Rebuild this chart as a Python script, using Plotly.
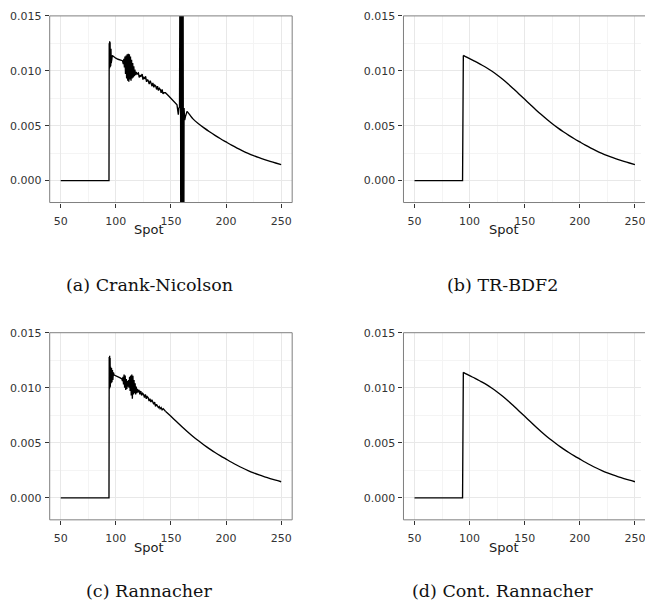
import plotly.graph_objects as go

W, H = 645, 603

# ---------------- data ----------------
# Smooth solution (TR-BDF2 and continuous Rannacher panels)
SMOOTH_X = [50, 93.6, 94.3, 100, 105, 110, 115, 120, 125, 130, 135, 140, 145,
            150, 155, 160, 165, 170, 175, 180, 185, 190, 195, 200, 205, 210,
            215, 220, 225, 230, 235, 240, 245, 250]
SMOOTH_Y = [0.0, 0.0, 0.01140, 0.01110, 0.01085, 0.01058, 0.01030, 0.00998,
            0.00962, 0.00923, 0.00880, 0.00834, 0.00787, 0.00740, 0.00693,
            0.00646, 0.00601, 0.00558, 0.00518, 0.00480, 0.00445, 0.00412,
            0.00381, 0.00352, 0.00323, 0.00296, 0.00271, 0.00248, 0.00227,
            0.00208, 0.00191, 0.00175, 0.00160, 0.00146]

# Crank-Nicolson (oscillating)
CN_X = [50, 93.8, 94.0, 94.2, 94.4, 94.6, 94.8, 95.0, 95.2, 95.4, 95.6, 95.8,
        96.0, 96.3, 96.8, 98, 100, 102, 104, 106,
        106.8, 107.3, 107.8, 108.3, 108.8, 109.3, 109.8, 110.3, 110.8, 111.3,
        111.8, 112.3, 112.8, 113.3, 113.8, 114.3, 114.8, 115.3, 115.8, 116.3,
        116.8, 117.3, 117.8, 118.5, 119.3,
        120.5, 121.2, 122.1, 122.8, 123.9, 124.6, 125.4, 126.3, 127.0, 127.9,
        128.8, 129.4, 130.3, 131.2, 132.0, 132.9, 133.6, 134.5, 135.3, 136.2,
        137.0, 137.8, 138.7, 139.5, 140.4, 141.1, 142.0, 142.8, 143.6, 145,
        148, 151, 154, 155.5, 156.3, 156.7, 157.2, 157.8,
        158.5, 158.7, 158.9, 159.1, 159.3, 159.5, 159.7, 159.9, 160.1,
        160.3, 160.5, 160.7, 160.9, 161.1, 161.3, 161.5,
        161.9, 162.5, 163.1, 164.6, 167, 170, 175, 180, 185, 190, 195, 200,
        205, 210, 215, 220, 225, 230, 235, 240, 245, 250]
CN_Y = [0.0, 0.0, 0.0125, 0.0102, 0.0127, 0.0103, 0.0126, 0.0104, 0.0124,
        0.0105, 0.0120, 0.0107, 0.0117, 0.0110, 0.0114, 0.01128, 0.01115,
        0.01105, 0.01098, 0.01092,
        0.0106, 0.0111, 0.0103, 0.0113, 0.0097, 0.0114, 0.0093, 0.0115,
        0.0091, 0.01155, 0.0090, 0.0115, 0.0092, 0.0113, 0.0091, 0.0110,
        0.0093, 0.0107, 0.0094, 0.0104, 0.0095, 0.0101, 0.0096, 0.0099, 0.0097,
        0.0098, 0.0094, 0.0096, 0.0095, 0.0097, 0.0092, 0.0094, 0.0093, 0.0095,
        0.0090, 0.0092, 0.0091, 0.0088, 0.0091, 0.0088, 0.0086, 0.0089, 0.0085,
        0.0087, 0.0086, 0.0083, 0.0086, 0.0082, 0.0084, 0.0083, 0.0080, 0.0083,
        0.0079, 0.0080, 0.0080,
        0.0077, 0.0074, 0.0071, 0.0069, 0.0063, 0.0060, 0.0066, 0.0067,
        0.03, -0.02, 0.03, -0.02, 0.03, -0.02, 0.03, -0.02, 0.03, -0.02, 0.03,
        -0.02, 0.03, -0.02, 0.03, -0.02,
        0.0066, 0.0055, 0.0058, 0.0063, 0.00600, 0.00562, 0.00518, 0.00480,
        0.00445, 0.00412, 0.00381, 0.00352, 0.00323, 0.00296, 0.00271,
        0.00248, 0.00227, 0.00208, 0.00191, 0.00175, 0.00160, 0.00146]

# Rannacher (oscillating, weaker)
RAN_X = [50, 93.8, 94.0, 94.2, 94.4, 94.6, 94.8, 95.0, 95.3, 95.7, 96.1, 96.5,
         96.9, 97.3, 97.8, 98.5, 100, 102, 104, 105.5,
         106.0, 106.5, 107.0, 107.5, 108.0, 108.5, 109.0, 109.5, 110.0, 110.5,
         111.0, 111.5, 112.0, 112.5, 113.0, 113.5, 114.0, 114.5, 115.0, 115.5,
         116.0, 116.5, 117.0, 117.5, 118.0, 118.5, 119.0, 119.6, 120.3,
         121, 121.8, 122.7, 123.4, 124.3, 125.1, 126.0, 126.8, 127.7, 128.4,
         129.3, 130.2, 131.0, 131.8, 132.7, 133.5, 134.4, 135.2, 136.0, 136.9,
         137.7, 138.6, 139.4, 140.2, 141.1, 142.0, 143.0, 145,
         150, 155, 160, 165, 170, 175, 180, 185, 190, 195, 200, 205, 210, 215,
         220, 225, 230, 235, 240, 245, 250]
RAN_Y = [0.0, 0.0, 0.0128, 0.0099, 0.0129, 0.0100, 0.0127, 0.0101, 0.0119,
         0.0104, 0.0118, 0.0105, 0.0116, 0.0107, 0.0114, 0.01115, 0.0111,
         0.0110, 0.0109, 0.0108,
         0.0106, 0.0110, 0.0103, 0.0112, 0.0100, 0.0111, 0.0098, 0.0108,
         0.0099, 0.0106, 0.0101, 0.0107, 0.0100, 0.0110, 0.0097, 0.0111,
         0.0093, 0.0112, 0.0090, 0.0111, 0.0094, 0.0107, 0.0095, 0.0104,
         0.0094, 0.0101, 0.0095, 0.0099, 0.0096,
         0.0098, 0.0094, 0.0097, 0.0093, 0.0095, 0.0094, 0.0091, 0.0094,
         0.0090, 0.0092, 0.0091, 0.0088, 0.0090, 0.0087, 0.0089, 0.0086,
         0.0085, 0.0087, 0.0083, 0.0085, 0.0084, 0.0082, 0.0083, 0.0081,
         0.0082, 0.0080, 0.0081, 0.00787,
         0.00740, 0.00693, 0.00646, 0.00601, 0.00558, 0.00518, 0.00480,
         0.00445, 0.00412, 0.00381, 0.00352, 0.00323, 0.00296, 0.00271,
         0.00248, 0.00227, 0.00208, 0.00191, 0.00175, 0.00160, 0.00146]

CAPTIONS = ["(a) Crank-Nicolson", "(b) TR-BDF2", "(c) Rannacher",
            "(d) Cont. Rannacher"]
X_TICKS = [50, 100, 150, 200, 250]
Y_TICKS = [0.0, 0.005, 0.010, 0.015]
X_TITLE = "Spot"

# (x, y, x-value from which the curve is drawn smoothed)
PANELS = [(CN_X, CN_Y, 164.6), (SMOOTH_X, SMOOTH_Y, 94.3),
          (RAN_X, RAN_Y, 145), (SMOOTH_X, SMOOTH_Y, 94.3)]

# ---------------- layout (pixels) ----------------
PX_PER_UNIT = 244 / 220.0
col_px = [(50, 294), (406, 645)]
row_px = [(10, 198.5), (330, 519)]
spot_x = [150, 507]
spot_y = [226, 546.5]
cap_x = [150, 506]
cap_y = [282, 591]

SANS = "DejaVu Sans, Liberation Sans, sans-serif"
SERIF = "DejaVu Serif, Liberation Serif, serif"

fig = go.Figure()
layout = dict(width=W, height=H, margin=dict(l=0, r=0, t=0, b=0),
              paper_bgcolor="white", plot_bgcolor="white", showlegend=False,
              shapes=[], annotations=[])

tickfont = dict(family=SANS, size=11, color="#333333")
LINE = dict(color="black", width=1.35)

for i, (xs, ys, xsm) in enumerate(PANELS):
    r, c = divmod(i, 2)
    n = "" if i == 0 else str(i + 1)
    x0p, x1p = col_px[c]
    y0p, y1p = row_px[r]
    xr_hi = 40 + (x1p - x0p) / PX_PER_UNIT
    k = xs.index(xsm)
    # raw (oscillating / jump) part, straight segments
    fig.add_trace(go.Scatter(x=xs[:k + 1], y=ys[:k + 1], mode="lines",
                             line=LINE, xaxis="x" + n, yaxis="y" + n,
                             hoverinfo="skip"))
    # smooth tail
    fig.add_trace(go.Scatter(x=xs[k:], y=ys[k:], mode="lines",
                             line=dict(LINE, shape="spline", smoothing=0.8),
                             xaxis="x" + n, yaxis="y" + n, hoverinfo="skip"))
    layout["xaxis" + n] = dict(
        domain=[x0p / W, x1p / W], range=[40, xr_hi], anchor="y" + n,
        tickvals=X_TICKS, ticks="outside", ticklen=4, tickcolor="#333333",
        tickwidth=1, showline=False, zeroline=False, showgrid=True,
        gridcolor="#e8e8e8", gridwidth=1.2, tickfont=tickfont,
        ticklabelstandoff=4, ticklabeloverflow="allow",
        minor=dict(dtick=25, tick0=25, showgrid=True, gridcolor="#f4f4f4",
                   gridwidth=0.8, ticks=""))
    layout["yaxis" + n] = dict(
        domain=[1 - y1p / H, 1 - y0p / H], range=[-0.002, 0.015],
        anchor="x" + n, tickvals=Y_TICKS, tickformat=".3f", ticks="outside",
        ticklen=4, tickcolor="#333333", tickwidth=1, showline=False,
        zeroline=False, showgrid=True, gridcolor="#e8e8e8", gridwidth=1.2,
        tickfont=tickfont, ticklabelstandoff=1,
        minor=dict(dtick=0.0025, tick0=0.0025, showgrid=True,
                   gridcolor="#f4f4f4", gridwidth=0.8, ticks=""))
    # panel border
    layout["shapes"].append(dict(
        type="rect", xref="paper", yref="paper", x0=x0p / W,
        x1=(x1p + (6 if c == 1 else 0)) / W, y0=1 - y1p / H, y1=1 - y0p / H,
        line=dict(color="#7f7f7f", width=1), layer="above"))
    layout["annotations"].append(dict(
        text=X_TITLE, xref="paper", yref="paper", x=spot_x[c] / W,
        y=1 - spot_y[r] / H, showarrow=False, xanchor="center",
        yanchor="middle", font=dict(family=SANS, size=13, color="#1a1a1a")))
    layout["annotations"].append(dict(
        text=CAPTIONS[i], xref="paper", yref="paper", x=cap_x[c] / W,
        y=1 - cap_y[r] / H, showarrow=False, xanchor="center",
        yanchor="middle", font=dict(family=SERIF, size=17.5, color="#111111")))

fig.update_layout(**layout)
fig.write_html("out.html")
